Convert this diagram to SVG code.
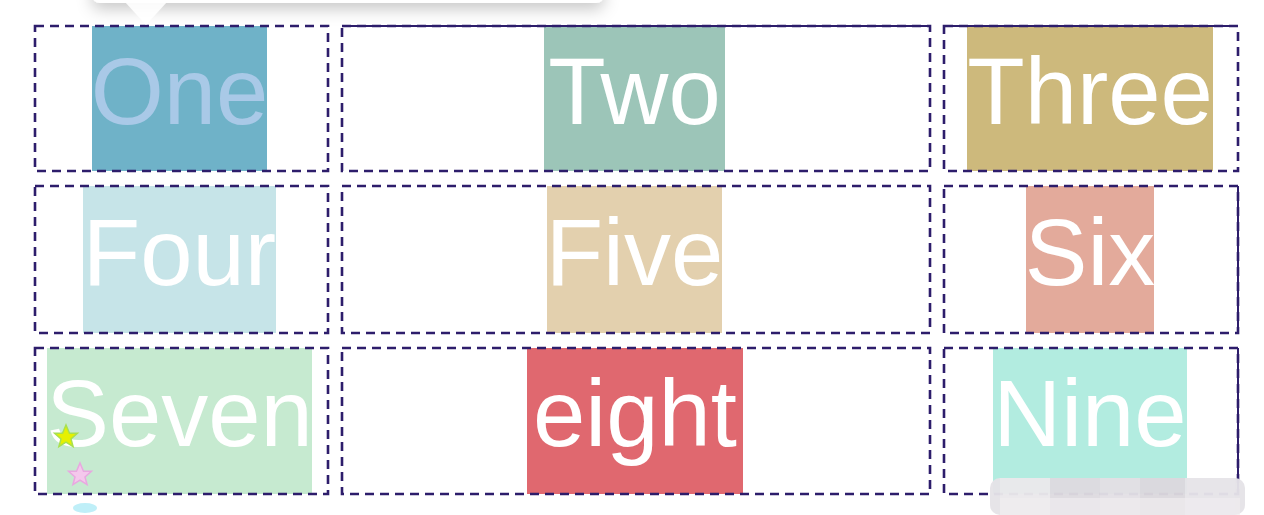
<svg xmlns="http://www.w3.org/2000/svg" width="1264" height="515" viewBox="0 0 1264 515">
<style>
.cell{fill:none;stroke:#2d1d6b;stroke-width:2.6;stroke-dasharray:9 6}
.solid{fill:none;stroke:#2d1d6b;stroke-width:2}
.lbl{font-family:"Liberation Sans",Arial,sans-serif;font-size:94px;fill:#ffffff;text-anchor:middle}
</style>
<defs>
<filter id="sh" x="-10%" y="-100%" width="120%" height="400%">
<feDropShadow dx="0" dy="6" stdDeviation="8" flood-color="#000" flood-opacity="0.22"/>
</filter>
<polygon id="star" points="0,-12 3.5,-3.7 11.4,-3.7 5,1.9 7.1,9.7 0,5.2 -7.1,9.7 -5,1.9 -11.4,-3.7 -3.5,-3.7"/>
</defs>
<rect width="1264" height="515" fill="#ffffff"/>

<g id="one">
<rect x="92" y="26" width="175" height="145" fill="#6fb2c8"/>
<text class="lbl" x="179.5" y="124" style="fill:#a9c9e7">One</text>
<rect class="cell" x="35" y="26" width="293" height="145"/>
</g>
<g id="two">
<rect x="544" y="26" width="181" height="145" fill="#9cc5b8"/>
<text class="lbl" x="634.5" y="124">Two</text>
<rect class="cell" x="342" y="26" width="588" height="145"/>
<line class="solid" x1="342" y1="26" x2="930" y2="26"/>
</g>
<g id="three">
<rect x="967" y="26" width="246" height="145" fill="#cdb97c"/>
<text class="lbl" x="1090" y="124">Three</text>
<rect class="cell" x="944" y="26" width="294" height="145"/>
<line class="solid" x1="944" y1="26" x2="1238" y2="26"/>
</g>

<g id="four">
<rect x="83" y="186" width="193" height="147" fill="#c6e4e8"/>
<text class="lbl" x="179.5" y="285">Four</text>
<rect class="cell" x="35" y="186" width="293" height="147"/>
</g>
<g id="five">
<rect x="547" y="186" width="175" height="147" fill="#e3d0ae"/>
<text class="lbl" x="634.5" y="285">Five</text>
<rect class="cell" x="342" y="186" width="588" height="147"/>
</g>
<g id="six">
<rect x="1026" y="186" width="128" height="147" fill="#e3aa9b"/>
<text class="lbl" x="1090" y="285">Six</text>
<rect class="cell" x="944" y="186" width="294" height="147"/>
<line class="solid" x1="1238" y1="186" x2="1238" y2="333"/>
</g>

<g id="seven">
<rect x="47" y="348" width="265" height="146" fill="#c6ead0"/>
<text class="lbl" x="179.5" y="446">Seven</text>
<rect class="cell" x="35" y="348" width="293" height="146"/>
</g>
<g id="eight">
<rect x="527" y="348" width="216" height="146" fill="#e0686f"/>
<text class="lbl" x="635" y="446">eight</text>
<rect class="cell" x="342" y="348" width="588" height="146"/>
</g>
<g id="nine">
<rect x="993" y="348" width="194" height="146" fill="#b2ece0"/>
<text class="lbl" x="1090" y="446">Nine</text>
<rect class="cell" x="944" y="348" width="294" height="146"/>
<line class="solid" x1="1238" y1="348" x2="1238" y2="494"/>
</g>

<g id="connectors"></g>

<g id="tooltip">
<rect x="92" y="-20" width="512" height="23" rx="8" fill="#ffffff" filter="url(#sh)"/>
<polygon points="125,2 167,2 146,25" fill="#ffffff" opacity="0.9"/>
</g>

<g id="stars">
<use href="#star" x="66" y="437" fill="#e6f000" stroke="#a8e050" stroke-width="1.5"/>
<use href="#star" x="80" y="475" fill="#f4c8ec" stroke="#e8a8e0" stroke-width="1.5"/>
<ellipse cx="85" cy="508" rx="12" ry="5" fill="#bfeff8"/>
</g>

<g id="mosaic" opacity="0.96">
<rect x="990" y="478" width="255" height="37" rx="10" fill="#e6e3e8"/>
<rect x="1000" y="478" width="50" height="37" fill="#ebe9ec"/>
<rect x="1050" y="478" width="50" height="37" fill="#dedbe0"/>
<rect x="1100" y="478" width="40" height="37" fill="#e3e0e5"/>
<rect x="1140" y="478" width="45" height="37" fill="#dcd9de"/>
<rect x="1185" y="478" width="50" height="37" fill="#e7e4e9"/>
<rect x="1000" y="498" width="240" height="17" fill="#efedf0" opacity="0.7"/>
</g>
</svg>
